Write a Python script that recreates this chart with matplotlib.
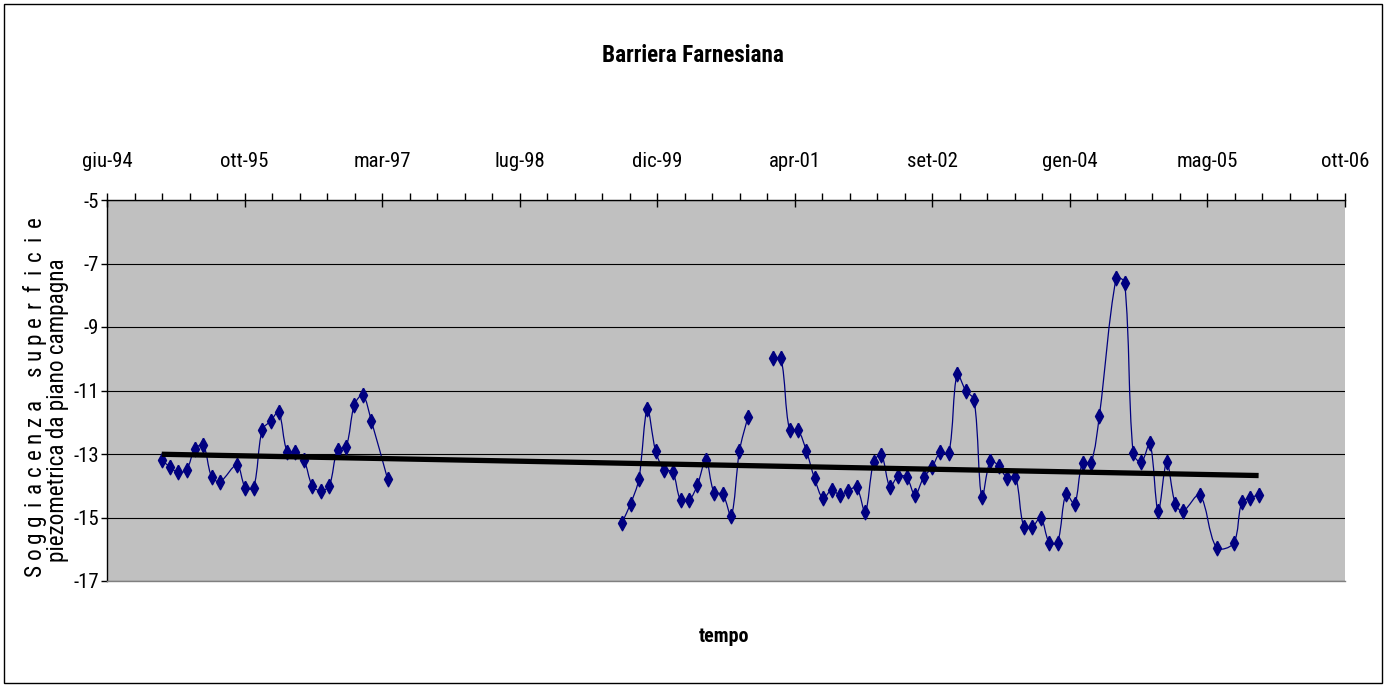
import datetime as dt
import numpy as np
import matplotlib
matplotlib.use("Agg")
import matplotlib.pyplot as plt
import matplotlib.dates as mdates
from matplotlib.path import Path
from matplotlib.patches import PathPatch, Rectangle
from matplotlib.ticker import FixedLocator, FuncFormatter
from matplotlib import font_manager as fm

# ---------------- data ----------------
title = "Barriera Farnesiana"
x_label = "tempo"
y_label_lines = ["Soggiacenza superficie", "piezometrica da piano campagna"]

dates = [
    # 1995-1997
    "1995-01", "1995-02", "1995-03", "1995-04", "1995-05", "1995-06", "1995-07", "1995-08",
    "1995-10", "1995-11", "1995-12", "1996-01", "1996-02", "1996-03", "1996-04", "1996-05",
    "1996-06", "1996-07", "1996-08", "1996-09", "1996-10", "1996-11", "1996-12", "1997-01",
    "1997-02", "1997-04",
    "1998-06",  # no data
    # 1999-2000
    "1999-08", "1999-09", "1999-10", "1999-11", "1999-12", "2000-01", "2000-02", "2000-03",
    "2000-04", "2000-05", "2000-06", "2000-07", "2000-08", "2000-09", "2000-10", "2000-11",
    "2000-12", "2001-01",  # no data
    # 2001-2005
    "2001-02", "2001-03", "2001-04", "2001-05", "2001-06", "2001-07", "2001-08", "2001-09",
    "2001-10", "2001-11", "2001-12", "2002-01", "2002-02", "2002-03", "2002-04", "2002-05",
    "2002-06", "2002-07", "2002-08", "2002-09", "2002-10", "2002-11", "2002-12", "2003-01",
    "2003-02", "2003-03", "2003-04", "2003-05", "2003-06", "2003-07", "2003-08", "2003-09",
    "2003-10", "2003-11", "2003-12", "2004-01", "2004-02", "2004-03", "2004-04", "2004-05",
    "2004-07", "2004-08", "2004-09", "2004-10", "2004-11", "2004-12", "2005-01", "2005-02",
    "2005-03", "2005-05", "2005-07", "2005-09", "2005-10", "2005-11", "2005-12",
]

levels = [
    -13.19, -13.42, -13.58, -13.50, -12.85, -12.72, -13.71, -13.87,
    -13.35, -14.06, -14.06, -12.24, -11.96, -11.67, -12.93, -12.93,
    -13.19, -14.00, -14.16, -14.00, -12.87, -12.77, -11.46, -11.14,
    -11.96, -13.79,
    None,
    -15.16, -14.57, -13.80, -11.59, -12.90, -13.50, -13.56, -14.45,
    -14.45, -13.98, -13.19, -14.22, -14.26, -14.95, -12.90, -11.82,
    None, None,
    -9.99, -9.99, -12.24, -12.24, -12.90, -13.77, -14.40, -14.13,
    -14.29, -14.15, -14.05, -14.82, -13.24, -13.03, -14.03, -13.69,
    -13.74, -14.29, -13.74, -13.42, -12.95, -12.98, -10.48, -11.00,
    -11.30, -14.37, -13.21, -13.38, -13.75, -13.71, -15.31, -15.29,
    -15.00, -15.79, -15.79, -14.26, -14.57, -13.27, -13.27, -11.80,
    -7.47, -7.60, -12.98, -13.26, -12.66, -14.80, -13.26, -14.57,
    -14.80, -14.29, -15.95, -15.81, -14.52, -14.38, -14.29,
]

axis_start = "1994-06-16"
axis_days = 4500
major_step_days = 500
minor_step_days = 100
y_min, y_max, y_step = -17, -5, 2
month_names = ["gen", "feb", "mar", "apr", "mag", "giu",
               "lug", "ago", "set", "ott", "nov", "dic"]

# ---------------- style ----------------
W, H = 1387, 686
fonts = fm.fontManager.ttflist
names = {f.name for f in fonts}
FONT = None
STRETCH = "normal"
for cand in ("Liberation Sans Narrow", "Arial Narrow", "Roboto Condensed",
             "Open Sans Condensed", "Noto Sans Condensed"):
    if cand in names:
        FONT = cand
        break
if FONT is None:
    for fam in ("Liberation Sans", "DejaVu Sans", "Noto Sans", "Roboto", "Open Sans"):
        if any(f.name == fam and f.stretch not in ("normal", 500, "medium") for f in fonts):
            FONT, STRETCH = fam, "condensed"
            break
if FONT is None:
    FONT = "Liberation Sans"
plt.rcParams["font.family"] = [FONT, "Liberation Sans", "DejaVu Sans"]
plt.rcParams["font.stretch"] = STRETCH
plt.rcParams["axes.unicode_minus"] = False
NARROW = FONT != "Liberation Sans"
k = 1.15 if NARROW else 1.0

NAVY = "#000080"
BG = "#C0C0C0"

fig = plt.figure(figsize=(W / 100, H / 100), dpi=100)
fig.patch.set_facecolor("white")
L, R, T, B = 107, 1345, 200, 581
ax = fig.add_axes([L / W, 1 - B / H, (R - L) / W, (B - T) / H])
ax.set_facecolor(BG)

x0 = mdates.date2num(dt.datetime.strptime(axis_start, "%Y-%m-%d"))
ax.set_xlim(x0, x0 + axis_days)
ax.set_ylim(y_min, y_max)

x_dates = [dt.datetime.strptime(d, "%Y-%m") for d in dates]
xnum = mdates.date2num(x_dates)
yv = np.array([np.nan if v is None else v for v in levels], dtype=float)


def smooth_path(xs, ys):
    """Smoothed (Bezier) line through the points, computed in pixel space."""
    pts = ax.transData.transform(np.column_stack([xs, ys]))
    n = len(pts)
    d = np.hypot(*np.diff(pts, axis=0).T)
    tang = np.zeros_like(pts)
    for i in range(n):
        a = pts[i - 1] if i > 0 else pts[i]
        b = pts[i + 1] if i < n - 1 else pts[i]
        dp = d[i - 1] if i > 0 else 0.0
        dn = d[i] if i < n - 1 else 0.0
        tang[i] = (b - a) / max(dp + dn, 1e-9)
    verts = [pts[0]]
    codes = [Path.MOVETO]
    for i in range(n - 1):
        c1 = pts[i] + tang[i] * d[i] / 3.0
        c2 = pts[i + 1] - tang[i + 1] * d[i] / 3.0
        verts += [c1, c2, pts[i + 1]]
        codes += [Path.CURVE4] * 3
    verts = ax.transData.inverted().transform(np.array(verts))
    return Path(verts, codes)


# split into continuous segments
valid = ~np.isnan(yv)
seg_start = None
for i in range(len(yv) + 1):
    ok = i < len(yv) and valid[i]
    if ok and seg_start is None:
        seg_start = i
    elif not ok and seg_start is not None:
        xs, ys = xnum[seg_start:i], yv[seg_start:i]
        if len(xs) > 1:
            ax.add_patch(PathPatch(smooth_path(xs, ys), fill=False,
                                   edgecolor=NAVY, lw=0.9, zorder=3))
        seg_start = None

diamond = [(0, 1), (0.55, 0), (0, -1), (-0.55, 0), (0, 1)]
ax.plot(xnum[valid], yv[valid], linestyle="none", marker=diamond,
        markersize=10.5, color=NAVY, markeredgecolor=NAVY, zorder=4)

# linear trend line
coef = np.polyfit(xnum[valid], yv[valid], 1)
tx = np.array([xnum[valid].min(), xnum[valid].max()])
ax.plot(tx, np.polyval(coef, tx), color="black", lw=3.8,
        solid_capstyle="butt", zorder=5)

# axes
majors = [x0 + k_ for k_ in range(0, axis_days + 1, major_step_days)]
minors = [x0 + k_ for k_ in range(0, axis_days + 1, minor_step_days)
          if k_ % major_step_days != 0]
ax.xaxis.tick_top()
ax.xaxis.set_major_locator(FixedLocator(majors))
ax.xaxis.set_minor_locator(FixedLocator(minors))


def fmt_date(v, pos=None):
    dd = mdates.num2date(v)
    return f"{month_names[dd.month - 1]}-{dd.year % 100:02d}"


ax.xaxis.set_major_formatter(FuncFormatter(fmt_date))
ax.tick_params(axis="x", which="major", direction="inout", length=10,
               width=1, pad=16, labelsize=13 * k, colors="black")
ax.tick_params(axis="x", which="minor", direction="out", length=5,
               width=1)
ax.set_yticks(np.arange(y_min, y_max + 0.1, y_step))
ax.yaxis.set_major_formatter(FuncFormatter(lambda v, p: f"{int(v)}"))
ax.tick_params(axis="y", direction="out", length=4, width=1, pad=2,
               labelsize=13 * k)
ax.yaxis.grid(True, color="black", lw=0.8)
ax.set_axisbelow(True)
ax.xaxis.grid(False)
for s in ("left", "top"):
    ax.spines[s].set_color("black")
    ax.spines[s].set_linewidth(1)
ax.spines["right"].set_visible(False)
ax.spines["bottom"].set_color("#808080")
ax.spines["bottom"].set_linewidth(1)

# texts
fig.text(693 / W, 1 - 55 / H, title, ha="center", va="center",
         fontsize=14.5 * k, fontweight="bold")
fig.text(724 / W, 1 - 637 / H, x_label, ha="center", va="center",
         fontsize=12.5 * k, fontweight="bold")

# y label: first line letter-spaced, second line as a plain vertical string
line1 = y_label_lines[0]
n1 = len(line1)
for i, ch in enumerate(line1):
    if ch == " ":
        continue
    yc = 570 + (222 - 570) * i / (n1 - 1)
    fig.text(34 / W, 1 - yc / H, ch, rotation=90, ha="center",
             va="center", fontsize=14.5 * k)
fig.text(58 / W, 1 - 410 / H, y_label_lines[1], rotation=90, ha="center",
         va="center", fontsize=14.5 * k)

# outer chart border
fig.add_artist(Rectangle((4 / W, 3 / H), (W - 9) / W, (H - 7) / H,
                         transform=fig.transFigure, fill=False,
                         edgecolor="black", lw=1))

fig.savefig("out.png", dpi=100)
